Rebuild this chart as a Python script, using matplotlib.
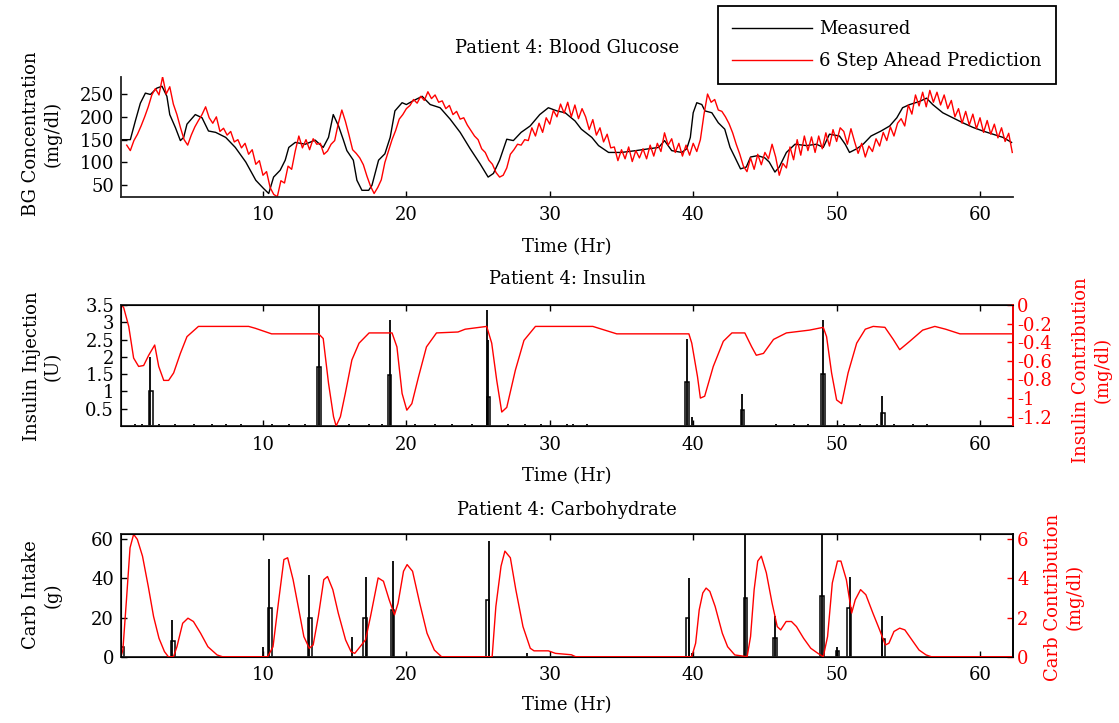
import numpy as np
import matplotlib.pyplot as plt

plt.rcParams['font.family'] = 'DejaVu Serif'
plt.rcParams['font.size'] = 13
plt.rcParams['axes.unicode_minus'] = False

# measured blood glucose (hr, mg/dl)
bg_t = [0.1, 0.75, 1.1, 1.45, 1.8, 2.15, 2.6, 2.96, 3.3, 3.5,
        3.9, 4.24, 4.47, 4.7, 5.28, 5.75, 6.2, 6.7, 7.4, 8.07,
        8.8, 9.5, 10.04, 10.4, 10.74, 11.2, 11.55, 11.8, 12.25, 12.95,
        13.64, 14.2, 14.57, 14.9, 15.27, 15.6, 15.85, 16.3, 16.55, 16.9,
        17.37, 17.6, 18.06, 18.5, 18.87, 19.2, 19.7, 20.0, 20.4, 21.1,
        21.66, 22.35, 23.05, 23.75, 24.45, 25.14, 25.7, 26.07, 26.5, 27.0,
        27.46, 28.0, 28.63, 29.3, 29.9, 30.5, 31.07, 31.76, 32.2, 32.93,
        33.4, 34.1, 35.0, 36.0, 36.9, 37.6, 38.0, 38.5, 39.2, 39.55,
        39.8, 40.0, 40.25, 40.6, 40.82, 41.3, 41.75, 42.2, 42.57, 42.9,
        43.3, 43.7, 44.0, 44.5, 45.0, 45.3, 45.7, 46.0, 46.5, 47.1,
        47.9, 48.6, 49.07, 49.5, 50.2, 50.6, 50.9, 51.4, 51.85, 52.4,
        53.1, 53.7, 54.2, 54.6, 55.1, 55.8, 56.27, 56.7, 57.4, 58.1,
        58.8, 59.5, 60.2, 60.9, 61.6, 62.2]
bg_val = [150, 150, 191, 230, 252, 249, 263, 267, 245, 205,
          176, 148, 155, 184, 205, 198, 169, 166, 155, 133,
          101, 61, 43, 32, 68, 83, 105, 133, 144, 140,
          149, 133, 155, 205, 180, 150, 126, 105, 61, 39,
          39, 50, 105, 119, 155, 213, 231, 227, 234, 245,
          227, 220, 195, 166, 130, 97, 68, 76, 105, 151,
          148, 166, 180, 205, 220, 213, 209, 191, 173, 155,
          137, 122, 122, 126, 130, 133, 148, 126, 122, 130,
          155, 209, 231, 227, 213, 209, 187, 173, 133, 112,
          86, 90, 112, 115, 110, 101, 79, 90, 122, 140,
          137, 140, 133, 162, 158, 140, 122, 130, 140, 158,
          169, 180, 198, 220, 227, 234, 241, 227, 209, 198,
          187, 177, 169, 162, 155, 144]

# 6 step ahead prediction, one value every 15 min from 0.5 hr
pred_val = [138, 126, 148, 162, 180, 200, 222, 248,
            262, 248, 288, 250, 266, 228, 205, 176,
            150, 138, 160, 178, 192, 205, 222, 198,
            186, 200, 168, 175, 160, 168, 145, 150,
            132, 142, 118, 128, 96, 104, 72, 80,
            45, 30, 25, 60, 55, 92, 85, 125,
            158, 132, 150, 128, 152, 140, 142, 118,
            125, 140, 148, 185, 215, 190, 160, 128,
            120, 110, 95, 70, 48, 32, 45, 62,
            100, 125, 150, 170, 195, 205, 218, 225,
            238, 230, 245, 236, 255, 240, 248, 232,
            235, 218, 225, 205, 212, 195, 198, 182,
            170, 158, 150, 130, 122, 105, 96, 78,
            68, 72, 88, 118, 128, 140, 138, 150,
            148, 176, 158, 186, 166, 198, 184, 214,
            200, 228, 208, 232, 200, 226, 196, 218,
            200, 172, 194, 160, 176, 145, 162, 132,
            134, 104, 128, 108, 134, 102, 126, 110,
            130, 108, 138, 114, 142, 124, 165, 138,
            152, 122, 142, 114, 138, 116, 142, 124,
            150, 205, 250, 232, 238, 215, 212, 200,
            185, 165, 140, 118, 92, 80, 110, 85,
            118, 95, 122, 108, 140, 112, 72, 98,
            88, 134, 106, 150, 116, 158, 126, 156,
            122, 158, 130, 165, 136, 172, 146, 176,
            168, 140, 174, 146, 120, 142, 112, 136,
            124, 152, 136, 166, 148, 178, 158, 186,
            196, 180, 226, 206, 248, 224, 254, 222,
            258, 232, 254, 226, 248, 218, 236, 200,
            218, 186, 212, 182, 206, 174, 198, 166,
            192, 162, 184, 154, 176, 146, 164, 122]
pred_t = 0.5 + 0.25 * np.arange(len(pred_val))

# insulin boluses (U): main dose line and the smaller split part
ins_dose_t = [2.12, 13.92, 18.87, 25.6, 25.68, 39.58, 39.92, 43.43, 49.04, 53.17]
ins_dose = [2.0, 3.5, 3.06, 3.35, 2.5, 2.53, 0.27, 0.92, 3.06, 0.87]
ins_split_t = [2.18, 13.92, 18.82, 25.72, 39.58, 43.43, 49.04, 53.25]
ins_split = [1.0, 1.7, 1.47, 0.85, 1.28, 0.46, 1.5, 0.37]
basal_t = [1.1, 1.57, 2.73, 3.9, 5.2, 6.44, 7.4, 8.5, 10.6, 11.8, 12.95,
           15.97, 17.4, 18.3, 20.6, 22.0, 23.2, 24.6, 27.1, 28.3, 29.4,
           31.2, 31.65, 32.6, 45.8, 47.0, 48.0, 50.5, 51.6, 52.8, 54.0,
           55.3, 56.3]
basal = 0.06

# insulin contribution to BG (mg/dl)
ins_fx_t = [0.15, 0.29, 0.64, 0.98, 1.33, 1.68, 2.03, 2.45, 2.73, 3.08,
            3.42, 3.77, 4.24, 4.7, 5.5, 9.0, 9.46, 10.6, 13.88, 14.2,
            14.57, 14.92, 15.1, 15.4, 15.74, 16.2, 16.7, 17.4, 19.0, 19.34,
            19.7, 20.03, 20.38, 20.85, 21.4, 22.1, 23.6, 24.1, 25.6, 25.95,
            26.3, 26.65, 27.0, 27.6, 28.2, 29.0, 33.0, 34.67, 39.7, 39.9,
            40.3, 40.5, 40.8, 41.4, 42.1, 42.7, 43.6, 44.08, 44.4, 44.9,
            45.6, 46.5, 48.1, 49.07, 49.3, 49.65, 50.0, 50.35, 50.8, 51.4,
            52.0, 52.55, 53.37, 53.95, 54.4, 55.1, 56.0, 56.85, 57.6, 58.6,
            62.3]
ins_fx = [0.0, -0.03, -0.23, -0.57, -0.66, -0.65, -0.54, -0.43, -0.66, -0.81,
          -0.81, -0.73, -0.52, -0.34, -0.23, -0.23, -0.25, -0.31, -0.31, -0.36,
          -0.84, -1.2, -1.3, -1.2, -0.95, -0.59, -0.41, -0.30, -0.30, -0.45,
          -0.95, -1.13, -1.06, -0.77, -0.45, -0.30, -0.29, -0.26, -0.23, -0.41,
          -0.81, -1.15, -1.10, -0.70, -0.38, -0.23, -0.23, -0.31, -0.31, -0.41,
          -0.77, -1.0, -0.98, -0.66, -0.39, -0.30, -0.30, -0.45, -0.54, -0.52,
          -0.37, -0.30, -0.27, -0.24, -0.34, -0.73, -1.02, -1.06, -0.73, -0.41,
          -0.26, -0.23, -0.24, -0.37, -0.48, -0.39, -0.27, -0.23, -0.26, -0.31,
          -0.31]

# carbohydrate intake (g)
carb_dose_t = [0.1, 3.64, 10.0, 10.42, 13.2, 16.2, 17.17, 19.04, 25.73, 28.4,
               39.7, 39.9, 43.58, 45.7, 49.0, 50.0, 50.93, 53.2]
carb_dose = [30, 19, 5, 50, 42, 10, 41, 49, 59, 2,
             40, 2, 62.6, 21, 62.6, 5, 41, 21]
carb_split_t = [0.2, 3.72, 10.5, 13.28, 17.1, 19.04, 25.65, 39.6, 43.66,
                45.7, 49.0, 50.05, 50.85, 53.28]
carb_split = [5, 8, 25, 20, 20, 24, 29, 20, 30, 9.4, 31, 3, 25, 9]

# carbohydrate contribution to BG (mg/dl)
carb_fx_t = [0.1, 0.23, 0.48, 0.73, 0.98, 1.24, 1.6, 2.0, 2.37, 2.75,
             3.13, 3.4, 3.76, 4.0, 4.4, 4.77, 5.15, 5.65, 6.16, 6.8,
             7.17, 10.33, 10.7, 11.1, 11.46, 11.72, 12.1, 12.5, 12.85, 13.23,
             13.5, 13.86, 14.24, 14.5, 14.87, 15.25, 15.76, 16.14, 16.4, 16.77,
             17.15, 17.5, 18.03, 18.4, 18.8, 19.17, 19.42, 19.8, 20.05, 20.43,
             20.93, 21.44, 21.95, 22.45, 25.98, 26.24, 26.6, 26.87, 27.25, 27.63,
             28.13, 28.64, 28.9, 29.9, 30.4, 31.5, 31.8, 39.9, 40.17, 40.42,
             40.67, 40.9, 41.16, 41.53, 42.03, 42.4, 42.9, 43.76, 44.0, 44.25,
             44.5, 44.75, 45.1, 45.5, 45.86, 46.1, 46.48, 46.85, 47.2, 47.7,
             48.2, 48.7, 49.07, 49.37, 49.7, 50.06, 50.3, 50.68, 51.05, 51.3,
             51.67, 52.04, 52.53, 53.0, 53.4, 53.65, 54.0, 54.4, 54.76, 55.25,
             55.75, 56.24, 56.6, 62.3]
carb_fx = [0, 0.34, 2.9, 5.57, 6.26, 6.0, 5.14, 3.6, 2.06, 0.94,
           0.26, 0, 0, 0.51, 1.71, 1.97, 1.8, 1.2, 0.51, 0.09,
           0, 0, 0.51, 2.9, 4.97, 5.06, 3.94, 2.4, 1.03, 0.43,
           0.6, 2.06, 3.94, 4.1, 3.43, 2.23, 0.86, 0.26, 0.17, 0.51,
           0.86, 2.06, 4.03, 3.86, 2.91, 2.14, 2.74, 4.37, 4.71, 4.37,
           2.74, 1.2, 0.34, 0, 0, 2.57, 4.63, 5.4, 5.06, 3.43,
           1.54, 0.43, 0.3, 0.3, 0.17, 0.1, 0, 0, 0.69, 2.4,
           3.26, 3.51, 3.34, 2.57, 1.2, 0.51, 0.09, 0, 1.03, 3.43,
           4.89, 5.14, 4.29, 2.74, 1.54, 1.37, 1.8, 1.8, 1.54, 0.94,
           0.43, 0.17, 0, 1.03, 3.77, 4.89, 4.89, 3.94, 2.23, 2.91,
           3.43, 3.17, 2.23, 1.37, 0.6, 0.69, 1.29, 1.46, 1.37, 0.86,
           0.34, 0.09, 0, 0]

xticks = [10, 20, 30, 40, 50, 60]
xlim = (0.1, 62.3)

W, H = 1119, 723


def box(left, top, right, bottom):
    # pixel box -> figure fraction rect
    return [left / W, 1 - bottom / H, (right - left) / W, (bottom - top) / H]


def ftext(x, y, s, **kw):
    fig.text(x / W, 1 - y / H, s, ha='center', va='center', **kw)


def style(ax):
    for s in ax.spines.values():
        s.set_linewidth(1.3)
        s.set_color('#222222')
    ax.tick_params(direction='in', length=4.5, width=1, labelsize=13)
    ax.tick_params(axis='x', pad=7)
    ax.tick_params(axis='y', pad=5)
    ax.set_xlim(*xlim)
    ax.set_xticks(xticks)


fig = plt.figure(figsize=(W / 100, H / 100), dpi=100)

# --- blood glucose ---
ax1 = fig.add_axes(box(121, 76.7, 1013, 196.7))
style(ax1)
ax1.spines['top'].set_visible(False)
ax1.spines['right'].set_visible(False)
ax1.plot(bg_t, bg_val, color='black', lw=1.0, label='Measured')
ax1.plot(pred_t, pred_val, color='red', lw=1.0, label='6 Step Ahead Prediction')
ax1.set_ylim(25, 288)
ax1.set_yticks([50, 100, 150, 200, 250])
leg = ax1.legend(loc='upper right', bbox_to_anchor=(1056 / W, 1 - 6 / H),
                 bbox_transform=fig.transFigure, borderaxespad=0, fancybox=False,
                 framealpha=1, edgecolor='black', handlelength=4.4,
                 handletextpad=0.4, borderpad=0.8, labelspacing=0.75, fontsize=13)
leg.get_frame().set_linewidth(1.3)
ftext(567, 48, 'Patient 4: Blood Glucose')
ftext(567, 247, 'Time (Hr)')
ftext(42, 134, 'BG Concentration\n(mg/dl)', rotation=90, multialignment='center')

# --- insulin ---
ax2 = fig.add_axes(box(121, 305, 1013, 426))
style(ax2)
ax2.tick_params(top=True, right=True)
ax2.bar(ins_split_t, ins_split, width=0.25, facecolor='white',
        edgecolor='black', linewidth=1.1)
ax2.vlines(ins_dose_t, 0, ins_dose, colors='black', lw=1.3)
ax2.vlines(basal_t, 0, basal, colors='black', lw=1.3)
ax2.set_ylim(0, 3.5)
ax2.set_yticks([0.5, 1, 1.5, 2, 2.5, 3, 3.5])
ax2.set_yticklabels(['0.5', '1', '1.5', '2', '2.5', '3', '3.5'])
ax2r = ax2.twinx()
ax2r.plot(ins_fx_t, ins_fx, color='red', lw=1.0)
ax2r.set_ylim(-1.3, 0)
ax2r.set_yticks([0, -0.2, -0.4, -0.6, -0.8, -1, -1.2])
ax2r.set_yticklabels(['0', '-0.2', '-0.4', '-0.6', '-0.8', '-1', '-1.2'])
ax2r.tick_params(axis='y', direction='in', length=4.5, width=1, colors='red',
                 pad=3, labelsize=13)
ax2r.spines['right'].set_color('red')
ax2r.spines['right'].set_linewidth(1.3)
ax2r.set_xlim(*xlim)
ftext(567, 279, 'Patient 4: Insulin')
ftext(567, 476, 'Time (Hr)')
ftext(42, 366, 'Insulin Injection\n(U)', rotation=90, multialignment='center')
ftext(1092, 370, 'Insulin Contribution\n(mg/dl)', rotation=90,
      multialignment='center', color='red')

# --- carbohydrate ---
ax3 = fig.add_axes(box(121, 534.3, 1013, 656.7))
style(ax3)
ax3.tick_params(top=True, right=True)
ax3.bar(carb_split_t, carb_split, width=0.25, facecolor='white',
        edgecolor='black', linewidth=1.1)
ax3.vlines(carb_dose_t, 0, carb_dose, colors='black', lw=1.3)
ax3.set_ylim(0, 62.6)
ax3.set_yticks([0, 20, 40, 60])
ax3r = ax3.twinx()
ax3r.plot(carb_fx_t, carb_fx, color='red', lw=1.0)
ax3r.set_ylim(0, 6.26)
ax3r.set_yticks([0, 2, 4, 6])
ax3r.tick_params(axis='y', direction='in', length=4.5, width=1, colors='red',
                 pad=3, labelsize=13)
ax3r.spines['right'].set_linewidth(1.3)
ax3r.set_xlim(*xlim)
ftext(567, 510, 'Patient 4: Carbohydrate')
ftext(567, 705, 'Time (Hr)')
ftext(42, 595, 'Carb Intake\n(g)', rotation=90, multialignment='center')
ftext(1064, 597, 'Carb Contribution\n(mg/dl)', rotation=90,
      multialignment='center', color='red')

fig.savefig('out.png', dpi=100)
